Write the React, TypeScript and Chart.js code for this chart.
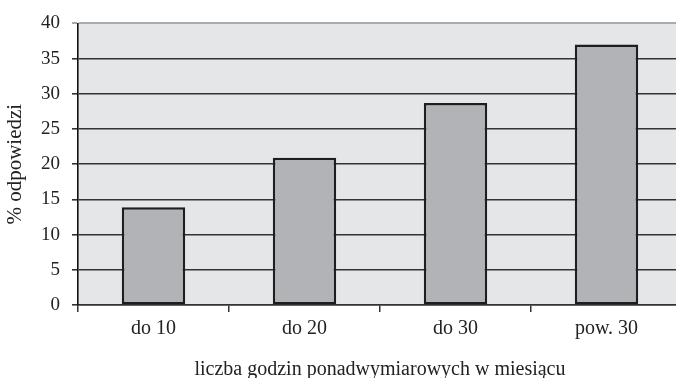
import React, { useEffect, useRef } from "react";
import { Chart, registerables } from "chart.js";

Chart.register(...registerables);

const categories = ["do 10", "do 20", "do 30", "pow. 30"];
const values = [13.9, 20.9, 28.7, 37.0];
const yTicks = [0, 5, 10, 15, 20, 25, 30, 35, 40];
const xTitle = "liczba godzin ponadwymiarowych w miesiącu";
const yTitle = "% odpowiedzi";

const FONT = "'Liberation Serif', 'DejaVu Serif', serif";

const bgPlugin = {
  id: "plotBg",
  beforeDraw(chart: any) {
    const { ctx, chartArea } = chart;
    if (!chartArea) return;
    ctx.save();
    ctx.fillStyle = "#e5e6e8";
    ctx.fillRect(chartArea.left, chartArea.top, chartArea.right - chartArea.left, chartArea.bottom - chartArea.top);
    ctx.restore();
  },
};

export default function App() {
  const ref = useRef<HTMLCanvasElement>(null);
  useEffect(() => {
    if (!ref.current) return;
    const chart = new Chart(ref.current, {
      type: "bar",
      data: {
        labels: categories,
        datasets: [
          {
            data: values,
            backgroundColor: "#b2b3b6",
            borderColor: "#1e1e1e",
            borderWidth: 2.5,
            borderSkipped: false,
            barPercentage: 0.42,
            categoryPercentage: 1,
          },
        ],
      },
      options: {
        animation: false,
        responsive: false,
        maintainAspectRatio: false,
        devicePixelRatio: 1,
        layout: { padding: { top: 20, left: 0, right: 2, bottom: 0 } },
        plugins: { legend: { display: false }, tooltip: { enabled: false } },
        scales: {
          x: {
            offset: true,
            afterFit: (s: any) => {
              s.height = 73;
            },
            grid: {
              offset: true,
              drawOnChartArea: false,
              drawTicks: true,
              tickLength: 7,
              color: "#333333",
              lineWidth: 1.5,
            },
            border: { display: true, color: "#333333", width: 1.5 },
            ticks: {
              color: "#222222",
              padding: 5,
              font: { family: FONT, size: 20 },
            },
            title: {
              display: true,
              text: xTitle,
              color: "#222222",
              font: { family: FONT, size: 20 },
              padding: { top: 0, bottom: -4 },
            },
          },
          y: {
            min: 0,
            max: 40,
            afterFit: (s: any) => {
              s.width = 78;
            },
            afterBuildTicks: (s: any) => {
              s.ticks = yTicks.map((v) => ({ value: v }));
            },
            grid: {
              color: (c: any) => (c.tick && c.tick.value === 40 ? "#aaaaaa" : "#333333"),
              lineWidth: (c: any) => (c.tick && c.tick.value === 40 ? 2 : 1.6),
              tickLength: 6,
              drawTicks: true,
            },
            border: { display: true, color: "#111111", width: 1.6 },
            ticks: {
              color: "#222222",
              padding: 12,
              font: { family: FONT, size: 19 },
            },
            title: {
              display: true,
              text: yTitle,
              color: "#222222",
              font: { family: FONT, size: 21 },
              padding: { top: 3, bottom: 0 },
            },
          },
        },
      },
      plugins: [bgPlugin],
    });
    return () => chart.destroy();
  }, []);
  return (
    <div style={{ position: "fixed", left: 0, top: 0, width: 676, height: 378, overflow: "hidden", background: "#fff" }}>
      <canvas ref={ref} width={684} height={378} style={{ display: "block", width: 684, height: 378 }} />
    </div>
  );
}
